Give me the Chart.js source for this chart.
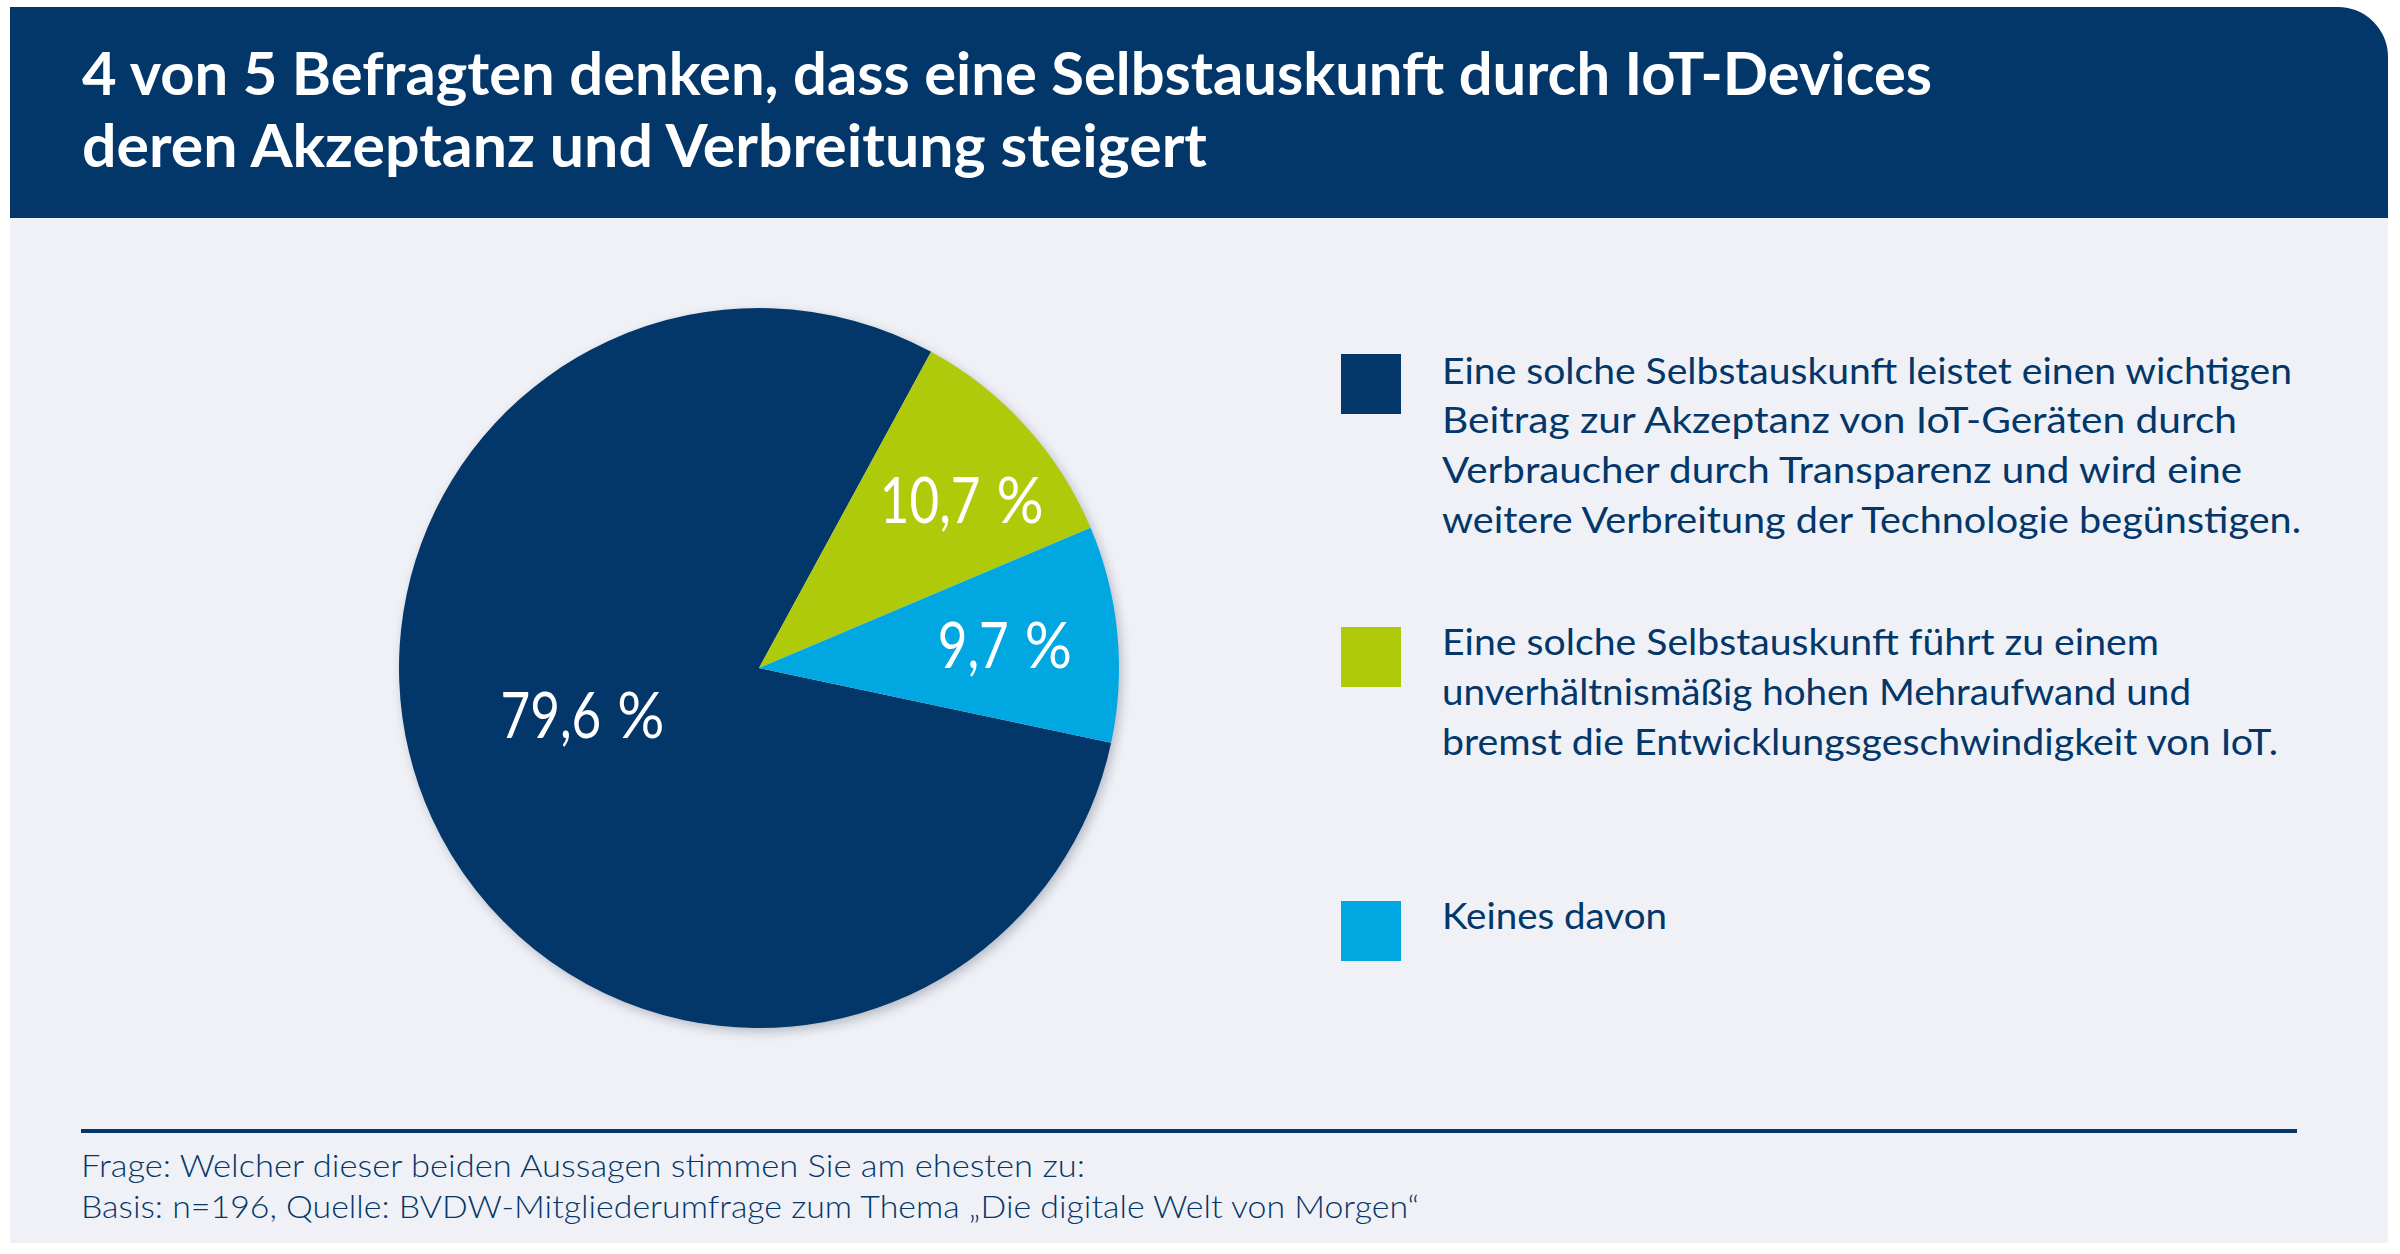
<!DOCTYPE html>
<html>
<head>
<meta charset="utf-8">
<script src="https://cdn.jsdelivr.net/npm/chart.js@4.4.1/dist/chart.umd.min.js"></script>
<style>
html,body{margin:0;padding:0;background:#ffffff;width:2400px;height:1254px;overflow:hidden;}
body{position:relative;font-family:Lato,"Open Sans","Noto Sans",sans-serif;}
#panel{position:absolute;left:10px;top:7px;width:2378px;height:1236px;background:#eff1f6;border-top-right-radius:50px;overflow:hidden;}
#header{position:absolute;left:0;top:0;width:100%;height:211px;background:#03376a;}
.t{position:absolute;white-space:nowrap;transform-origin:0 0;line-height:1;}
.title{color:#ffffff;font-weight:700;font-size:60px;}
.leg{color:#03376a;font-weight:400;font-size:37px;}
.foot{color:#03376a;font-weight:300;font-size:32px;}
#chartBox{position:absolute;left:379px;top:288px;width:760px;height:760px;}
.sw{position:absolute;width:60px;height:60px;}
#rule{position:absolute;left:81px;top:1129px;width:2216px;height:4px;background:#03376a;}
</style>
</head>
<body>
<div id="panel"><div id="header"></div></div>
<div id="chartBox"><canvas id="c" width="760" height="760"></canvas></div>
<div id="rule"></div>
<div id="texts"></div>
<script>
// ---------- data ----------
const titleLines = [
  "4 von 5 Befragten denken, dass eine Selbstauskunft durch IoT-Devices",
  "deren Akzeptanz und Verbreitung steigert"
];
const categories = [
  ["Eine solche Selbstauskunft leistet einen wichtigen",
   "Beitrag zur Akzeptanz von IoT-Geräten durch",
   "Verbraucher durch Transparenz und wird eine",
   "weitere Verbreitung der Technologie begünstigen."],
  ["Eine solche Selbstauskunft führt zu einem",
   "unverhältnismäßig hohen Mehraufwand und",
   "bremst die Entwicklungsgeschwindigkeit von IoT."],
  ["Keines davon"]
];
const values = [79.6, 10.7, 9.7];
const footerLines = [
  "Frage: Welcher dieser beiden Aussagen stimmen Sie am ehesten zu:",
  "Basis: n=196, Quelle: BVDW-Mitgliederumfrage zum Thema \u201EDie digitale Welt von Morgen\u201C"
];

// ---------- styling / layout ----------
const sliceColors = ["#03376a", "#afca0b", "#00a7e1"];
const textsEl = document.getElementById('texts');

function addLine(cls, txt, x, baseline, targetW) {
  const el = document.createElement('div');
  el.className = 't ' + cls;
  el.textContent = txt;
  textsEl.appendChild(el);
  const probe = document.createElement('span');
  probe.style.cssText = 'display:inline-block;width:0;height:0;vertical-align:baseline;';
  el.appendChild(probe);
  const off = probe.offsetTop;
  el.removeChild(probe);
  el.style.left = x + 'px';
  el.style.top = (baseline - off) + 'px';
  if (targetW) {
    const w = el.getBoundingClientRect().width;
    el.style.transform = 'scaleX(' + (targetW / w) + ')';
  }
  return el;
}

// title
const titleBaselines = [95, 167];
const titleWidths = [1850, 1125];
titleLines.forEach((t, i) => addLine('title', t, 82, titleBaselines[i], titleWidths[i]));

// legend
const legendBaselines = [[384, 433, 483, 533], [655, 705, 755], [929]];
const legendWidths = [[850, 795, 800, 859], [717, 749, 836], [225]];
const swatchTops = [354, 627, 901];
categories.forEach((lines, i) => {
  const sw = document.createElement('div');
  sw.className = 'sw';
  sw.style.left = '1341px';
  sw.style.top = swatchTops[i] + 'px';
  sw.style.background = sliceColors[i];
  textsEl.appendChild(sw);
  lines.forEach((l, j) => addLine('leg', l, 1442, legendBaselines[i][j], legendWidths[i][j]));
});

// footer
const footBaselines = [1177, 1218];
const footWidths = [1004, 1338];
footerLines.forEach((t, i) => addLine('foot', t, 81, footBaselines[i], footWidths[i]));

// ---------- chart ----------
const shadowPlugin = {
  id: 'pieShadow',
  beforeDatasetsDraw(chart) {
    const arc = chart.getDatasetMeta(0).data[0];
    if (!arc) return;
    const p = arc.getProps(['x', 'y', 'outerRadius'], true);
    const ctx = chart.ctx;
    ctx.save();
    ctx.shadowColor = 'rgba(10,20,50,0.28)';
    ctx.shadowBlur = 12;
    ctx.shadowOffsetX = 3;
    ctx.shadowOffsetY = 4;
    ctx.fillStyle = '#eff1f6';
    ctx.beginPath();
    ctx.arc(p.x, p.y, p.outerRadius - 1, 0, Math.PI * 2);
    ctx.fill();
    ctx.restore();
  }
};

const sliceLabelPlugin = {
  id: 'sliceLabels',
  afterDatasetsDraw(chart, args, opts) {
    const ctx = chart.ctx;
    const meta = chart.getDatasetMeta(0);
    const data = chart.data.datasets[0].data;
    ctx.save();
    ctx.fillStyle = opts.color;
    ctx.font = opts.font;
    ctx.textAlign = 'left';
    ctx.textBaseline = 'alphabetic';
    const cap = ctx.measureText('0').actualBoundingBoxAscent;
    meta.data.forEach((arc, i) => {
      const p = arc.getProps(['x', 'y', 'startAngle', 'endAngle', 'outerRadius'], true);
      const mid = (p.startAngle + p.endAngle) / 2 + opts.angleShift[i] * Math.PI / 180;
      const r = p.outerRadius * opts.radiusFrac[i];
      const lx = p.x + Math.cos(mid) * r;
      const ly = p.y + Math.sin(mid) * r;
      const num = data[i].toFixed(1).replace('.', ',');
      const w1 = ctx.measureText(num).width * opts.numScale;
      const w2 = ctx.measureText('%').width * opts.pctScale;
      const total = w1 + opts.gap + w2;
      const x0 = lx - total / 2;
      const by = ly + cap / 2;
      ctx.save();
      ctx.translate(x0, by);
      ctx.scale(opts.numScale, 1);
      ctx.fillText(num, 0, 0);
      ctx.restore();
      ctx.save();
      ctx.translate(x0 + w1 + opts.gap, by);
      ctx.scale(opts.pctScale, 1);
      ctx.fillText('%', 0, 0);
      ctx.restore();
    });
    ctx.restore();
  }
};

new Chart(document.getElementById('c'), {
  type: 'pie',
  data: {
    labels: categories.map(l => l.join(' ')),
    datasets: [{
      data: values,
      backgroundColor: sliceColors,
      borderWidth: 0,
      hoverOffset: 0,
      offset: 0,
      radius: 360
    }]
  },
  options: {
    responsive: false,
    animation: false,
    events: [],
    rotation: 102,
    layout: { padding: 0 },
    plugins: {
      legend: { display: false },
      tooltip: { enabled: false },
      sliceLabels: {
        color: '#ffffff',
        font: '400 64px Lato, "Open Sans", sans-serif',
        numScale: 0.8,
        pctScale: 0.92,
        gap: 16,
        angleShift: [10, 2.4, 0],
        radiusFrac: [0.507, 0.733, 0.686]
      }
    }
  },
  plugins: [shadowPlugin, sliceLabelPlugin]
});
</script>
</body>
</html>
